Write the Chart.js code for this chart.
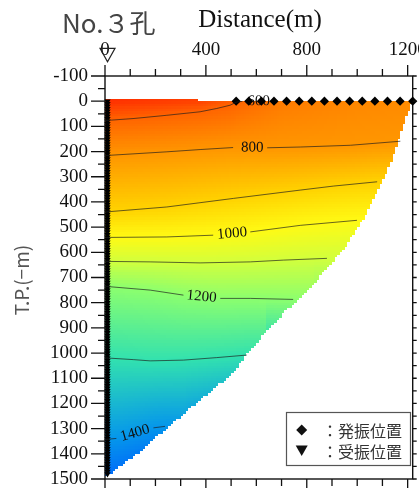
<!DOCTYPE html>
<html><head><meta charset="utf-8">
<script src="https://cdn.jsdelivr.net/npm/chart.js@4.4.0/dist/chart.umd.min.js"></script>
<style>html,body{margin:0;padding:0;background:#fff;}</style>
</head><body>
<canvas id="c" width="419" height="488"></canvas>
<script>
// ================= DATA =================
const xTickValues = [0, 400, 800, 1200];
const yTickValues = [-100, 0, 100, 200, 300, 400, 500, 600, 700, 800, 900, 1000, 1100, 1200, 1300, 1400, 1500];

// 発振位置 (shot points along the surface, depth 0)
const shotX = [520, 570, 620, 670, 720, 770, 820, 870, 920, 970, 1020, 1070, 1120, 1170, 1220];
// 受振位置 (receivers in the borehole)
const receiverX = 10;
const receiverDepth = [
  0, 10, 20, 30, 40, 50, 60, 70, 80, 90,
  100, 110, 120, 130, 140, 150, 160, 170, 180, 190,
  200, 210, 220, 230, 240, 250, 260, 270, 280, 290,
  300, 310, 320, 330, 340, 350, 360, 370, 380, 390,
  400, 410, 420, 430, 440, 450, 460, 470, 480, 490,
  500, 510, 520, 530, 540, 550, 560, 570, 580, 590,
  600, 610, 620, 630, 640, 650, 660, 670, 680, 690,
  700, 710, 720, 730, 740, 750, 760, 770, 780, 790,
  800, 810, 820, 830, 840, 850, 860, 870, 880, 890,
  900, 910, 920, 930, 940, 950, 960, 970, 980, 990,
  1000, 1010, 1020, 1030, 1040, 1050, 1060, 1070, 1080, 1090,
  1100, 1110, 1120, 1130, 1140, 1150, 1160, 1170, 1180, 1190,
  1200, 1210, 1220, 1230, 1240, 1250, 1260, 1270, 1280, 1290,
  1300, 1310, 1320, 1330, 1340, 1350, 1360, 1370, 1380, 1390,
  1400, 1410, 1420, 1430, 1440, 1450, 1460, 1470, 1480
];
// borehole mouth marker (above the section)
const wellheadX = [10];
const wellheadDepth = [-192];

// Velocity contours (x in m, depth in m; null = gap where the label sits)
const c600x = [523, 545, 609, 640];
const c600d = [3, 1, null, 0];
const c700x = [0, 27, 111, 245, 377, 443, 496, 523];
const c700d = [76, 75, 69, 56, 42, 29, 16, 3];
const c800x = [0, 245, 377, 508, 584, 643, 774, 973, 1171];
const c800d = [216, 201, 192, 184, null, 185, 182, 175, 159];
const c900x = [0, 245, 509, 774, 906, 1079];
const c900d = [440, 420, 386, 353, 337, 320];
const c1000x = [0, 245, 429, 504, 576, 774, 999];
const c1000d = [541, 539, 532, null, 519, 493, 473];
const c1100x = [0, 179, 377, 576, 707, 880];
const c1100d = [636, 638, 642, 638, 631, 624];
const c1200x = [0, 179, 311, 383, 457, 576, 746];
const c1200d = [735, 750, 770, null, 783, 783, 787];
const c1300x = [0, 112, 179, 311, 443, 562];
const c1300d = [1019, 1026, 1031, 1028, 1018, 1008];
const c1400x = [0, 45, 119, 192, 238];
const c1400d = [1343, 1339, null, 1297, 1291];

// velocity along the ground surface (depth 0)
const surfaceX = [0, 380, 523, 700, 1000, 1220];
const surfaceVel = [585, 625, 700, 745, 770, 778];

// outline of the analysed section
const boundaryX = [0, 362, 385, 1218, 1181, 1138, 1103, 1039, 953, 841, 761, 707, 641, 562, 516, 443, 377, 311, 245, 184, 139, 73, 20, 0];
const boundaryDepth = [-10, -10, 0, 0, 101, 234, 314, 445, 579, 711, 790, 842, 917, 1004, 1071, 1135, 1188, 1241, 1300, 1346, 1393, 1439, 1479, 1489];

// ================= STYLE =================
const SERIF = "'Liberation Serif', 'DejaVu Serif', serif";
const CJK = "'Noto Sans CJK JP', 'Noto Sans', sans-serif";
const colorStopVel = [580, 700, 800, 900, 1000, 1100, 1200, 1300, 1400, 1450, 1500];
const colorStopRGB = [
  [255, 45, 0], [255, 100, 0], [255, 150, 0], [255, 210, 0], [255, 250, 20],
  [210, 255, 60], [140, 255, 110], [50, 225, 175], [5, 150, 235], [0, 105, 250], [0, 70, 255]
];
const CELL = 10, TOL = 80, X_MINOR = 100, Y_MINOR = 50;

// ================= HELPERS =================
const contours = [
  { level: 600, x: c600x, d: c600d, field: false },
  { level: 700, x: c700x, d: c700d, field: true },
  { level: 800, x: c800x, d: c800d, field: true },
  { level: 900, x: c900x, d: c900d, field: true },
  { level: 1000, x: c1000x, d: c1000d, field: true },
  { level: 1100, x: c1100x, d: c1100d, field: true },
  { level: 1200, x: c1200x, d: c1200d, field: true },
  { level: 1300, x: c1300x, d: c1300d, field: true },
  { level: 1400, x: c1400x, d: c1400d, field: true }
];
contours.forEach(c => {
  c.pts = [];
  for (let i = 0; i < c.x.length; i++) if (c.d[i] !== null) c.pts.push([c.x[i], c.d[i]]);
  c.px = c.pts.map(q => q[0]); c.pd = c.pts.map(q => q[1]);
});
function interp1(xs, ys, x) {
  if (x <= xs[0]) return ys[0];
  for (let i = 1; i < xs.length; i++) if (x <= xs[i]) {
    const t = (x - xs[i - 1]) / (xs[i] - xs[i - 1]);
    return ys[i - 1] + t * (ys[i] - ys[i - 1]);
  }
  return ys[ys.length - 1];
}
function depthOnLine(c, x) {
  const n = c.px.length;
  if (x < c.px[0]) return (c.px[0] - x <= TOL) ? c.pd[0] : null;
  if (x > c.px[n - 1]) {
    // lines that run out at the ground surface are not extended
    if (c.pd[n - 1] < 20) return null;
    return (x - c.px[n - 1] <= TOL) ? c.pd[n - 1] : null;
  }
  return interp1(c.px, c.pd, x);
}
function velocityAt(x, d) {
  const a = [[0, interp1(surfaceX, surfaceVel, x)]];
  contours.forEach(c => { if (!c.field) return; const dd = depthOnLine(c, x); if (dd !== null && dd > 0) a.push([dd, c.level]); });
  a.sort((p, q) => p[0] - q[0]);
  if (d <= a[0][0]) return a[0][1];
  for (let i = 1; i < a.length; i++) if (d <= a[i][0]) {
    const t = (d - a[i - 1][0]) / (a[i][0] - a[i - 1][0]);
    return a[i - 1][1] + t * (a[i][1] - a[i - 1][1]);
  }
  const n = a.length, [d1, v1] = a[n - 2], [d2, v2] = a[n - 1];
  return Math.min(1500, v2 + (d - d2) * (v2 - v1) / (d2 - d1));
}
function colorFor(v) {
  const rgb = [0, 1, 2].map(k => Math.round(interp1(colorStopVel, colorStopRGB.map(c => c[k]), v)));
  return `rgb(${rgb[0]},${rgb[1]},${rgb[2]})`;
}
function inside(x, d) {
  let ins = false;
  for (let i = 0, j = boundaryX.length - 1; i < boundaryX.length; j = i++) {
    const xi = boundaryX[i], di = boundaryDepth[i], xj = boundaryX[j], dj = boundaryDepth[j];
    if ((di > d) !== (dj > d) && x < (xj - xi) * (d - di) / (dj - di) + xi) ins = !ins;
  }
  return ins;
}

// ================= PLUGINS =================
const fieldPlugin = {
  id: 'field',
  beforeDatasetsDraw(chart) {
    const { ctx, chartArea: a, scales: { x: xs, y: ys } } = chart;
    ctx.save();
    ctx.beginPath(); ctx.rect(a.left, a.top, a.right - a.left, a.bottom - a.top); ctx.clip();
    for (let x = xs.min; x < xs.max; x += CELL) {
      const x0 = Math.round(xs.getPixelForValue(x)), x1 = Math.round(xs.getPixelForValue(x + CELL));
      for (let d = -20; d < ys.max; d += CELL) {
        const cx = x + CELL / 2, cd = d + CELL / 2;
        if (!inside(cx, cd)) continue;
        ctx.fillStyle = colorFor(velocityAt(cx, cd));
        const y0 = Math.round(ys.getPixelForValue(d)), y1 = Math.round(ys.getPixelForValue(d + CELL));
        ctx.fillRect(x0, y0, x1 - x0, y1 - y0);
      }
    }
    ctx.restore();

    // contour labels at the gaps of the contour lines
    ctx.save();
    ctx.fillStyle = '#111';
    ctx.font = `15px ${SERIF}`;
    ctx.textAlign = 'center'; ctx.textBaseline = 'middle';
    contours.forEach(c => {
      for (let i = 0; i < c.x.length; i++) {
        if (c.d[i] !== null) continue;
        const prev = i > 0 ? [c.x[i - 1], c.d[i - 1]] : null;
        const next = i < c.x.length - 1 ? [c.x[i + 1], c.d[i + 1]] : null;
        const p0 = prev || next, p1 = next || prev;
        const t = (p1[0] === p0[0]) ? 0 : (c.x[i] - p0[0]) / (p1[0] - p0[0]);
        const dd = p0[1] + t * (p1[1] - p0[1]);
        const px = xs.getPixelForValue(c.x[i]), py = ys.getPixelForValue(dd);
        const ang = Math.atan2(ys.getPixelForValue(p1[1]) - ys.getPixelForValue(p0[1]),
                               xs.getPixelForValue(p1[0]) - xs.getPixelForValue(p0[0]));
        ctx.save(); ctx.translate(px, py); ctx.rotate(ang);
        ctx.fillText(String(c.level), 0, 0);
        ctx.restore();
      }
    });
    ctx.restore();

    // frame
    ctx.save();
    ctx.strokeStyle = '#111';
    ctx.lineWidth = 1.4;
    ctx.strokeRect(a.left, a.top, a.right - a.left, a.bottom - a.top);
    ctx.restore();
  },
  afterDraw(chart) {
    const { ctx, chartArea: a, scales: { x: xs, y: ys } } = chart;
    ctx.save();
    // tick marks
    ctx.strokeStyle = '#111';
    ctx.lineWidth = 1.3;
    ctx.beginPath();
    for (let v = xs.min; v <= xs.max; v += X_MINOR) {
      const p = xs.getPixelForValue(v), major = xTickValues.includes(v);
      ctx.moveTo(p, a.top); ctx.lineTo(p, a.top - (major ? 11 : 7));
      ctx.moveTo(p, a.bottom); ctx.lineTo(p, a.bottom + (major ? 10 : 7));
    }
    for (let v = ys.min; v <= ys.max; v += Y_MINOR) {
      const p = ys.getPixelForValue(v), major = yTickValues.includes(v);
      ctx.moveTo(a.left, p); ctx.lineTo(a.left - (major ? 14 : 7), p);
      ctx.moveTo(a.right, p); ctx.lineTo(a.right + 4, p);
    }
    ctx.stroke();

    // borehole mouth marker (hollow down-triangle)
    ctx.strokeStyle = '#222'; ctx.lineWidth = 1.2;
    wellheadX.forEach((wx, i) => {
      const px = xs.getPixelForValue(wx), py = ys.getPixelForValue(wellheadDepth[i]);
      ctx.beginPath();
      ctx.moveTo(px - 7.5, py - 4.5); ctx.lineTo(px + 7.5, py - 4.5); ctx.lineTo(px, py + 9);
      ctx.closePath(); ctx.stroke();
    });

    // titles
    ctx.fillStyle = '#111';
    ctx.font = `25px ${SERIF}`;
    ctx.textAlign = 'center'; ctx.textBaseline = 'alphabetic';
    ctx.fillText('Distance(m)', 260, 27);
    ctx.fillStyle = '#444';
    ctx.font = `26px ${CJK}`;
    ctx.textAlign = 'left';
    ctx.fillText('No.３孔', 62, 33);
    ctx.save();
    ctx.translate(22, 280); ctx.rotate(-Math.PI / 2);
    ctx.fillStyle = '#555'; ctx.font = `19px ${CJK}`;
    ctx.textAlign = 'center'; ctx.textBaseline = 'middle';
    ctx.fillText('T.P.(−m)', 0, 0);
    ctx.restore();

    // legend box
    const lx = 286.5, ly = 412.5, lw = 124, lh = 53;
    ctx.fillStyle = '#fff'; ctx.fillRect(lx, ly, lw, lh);
    ctx.strokeStyle = '#555'; ctx.lineWidth = 1.2; ctx.strokeRect(lx, ly, lw, lh);
    const ds = chart.data.datasets;
    const shot = ds.find(d => d.id === 'shot'), rec = ds.find(d => d.id === 'rec');
    ctx.fillStyle = '#111';
    const mx = 301.7, y1 = 430, y2 = 450.5;
    ctx.beginPath();
    ctx.moveTo(mx, y1 - 5.5); ctx.lineTo(mx + 5.5, y1); ctx.lineTo(mx, y1 + 5.5); ctx.lineTo(mx - 5.5, y1);
    ctx.closePath(); ctx.fill();
    ctx.beginPath();
    ctx.moveTo(mx - 6, y2 - 5); ctx.lineTo(mx + 6, y2 - 5); ctx.lineTo(mx, y2 + 5.5);
    ctx.closePath(); ctx.fill();
    ctx.fillStyle = '#333';
    ctx.font = `16px ${CJK}`;
    ctx.textAlign = 'left'; ctx.textBaseline = 'middle';
    ctx.fillText('：' + shot.label, 322, y1 + 1);
    ctx.fillText('：' + rec.label, 322, y2 + 1);
    ctx.restore();
  }
};

// ================= CHART =================
const lineDatasets = contours.map(c => ({
  type: 'line',
  label: String(c.level),
  data: c.x.map((x, i) => ({ x: x, y: c.d[i] })),
  borderColor: 'rgba(30,30,30,0.85)',
  borderWidth: 0.8,
  pointRadius: 0,
  spanGaps: false,
  tension: 0,
  fill: false
}));

new Chart(document.getElementById('c'), {
  type: 'scatter',
  data: {
    datasets: [
      ...lineDatasets,
      {
        id: 'shot', label: '発振位置',
        data: shotX.map(x => ({ x: x, y: 0 })),
        pointStyle: 'rectRot', pointRadius: 4.6,
        backgroundColor: '#000', borderColor: '#000', borderWidth: 0, clip: false
      },
      {
        id: 'rec', label: '受振位置',
        data: receiverDepth.map(d => ({ x: receiverX, y: d })),
        pointStyle: 'triangle', rotation: 180, pointRadius: 3.6,
        backgroundColor: '#000', borderColor: '#000', borderWidth: 0, clip: false
      }
    ]
  },
  options: {
    responsive: false,
    animation: false,
    devicePixelRatio: 1,
    layout: { padding: { left: 0, top: 0, right: 6.3, bottom: 9 } },
    plugins: { legend: { display: false }, tooltip: { enabled: false }, title: { display: false } },
    scales: {
      x: {
        type: 'linear', position: 'top', min: 0, max: 1220,
        afterBuildTicks: s => { s.ticks = xTickValues.map(v => ({ value: v })); },
        afterFit: s => { s.height = 76; s.paddingLeft = 0; s.paddingRight = 0; },
        grid: { display: false, drawTicks: false }, border: { display: false },
        ticks: { autoSkip: false, maxRotation: 0, padding: 15, color: '#111',
                 font: { family: SERIF, size: 19 }, callback: v => String(v) }
      },
      y: {
        type: 'linear', position: 'left', reverse: true, min: -100, max: 1500,
        afterBuildTicks: s => { s.ticks = yTickValues.map(v => ({ value: v })); },
        afterFit: s => { s.width = 105; s.paddingTop = 0; s.paddingBottom = 0; },
        grid: { display: false, drawTicks: false }, border: { display: false },
        ticks: { autoSkip: false, padding: 17, color: '#111',
                 font: { family: SERIF, size: 19 }, callback: v => String(v) }
      }
    }
  },
  plugins: [fieldPlugin]
});
</script>
</body></html>
